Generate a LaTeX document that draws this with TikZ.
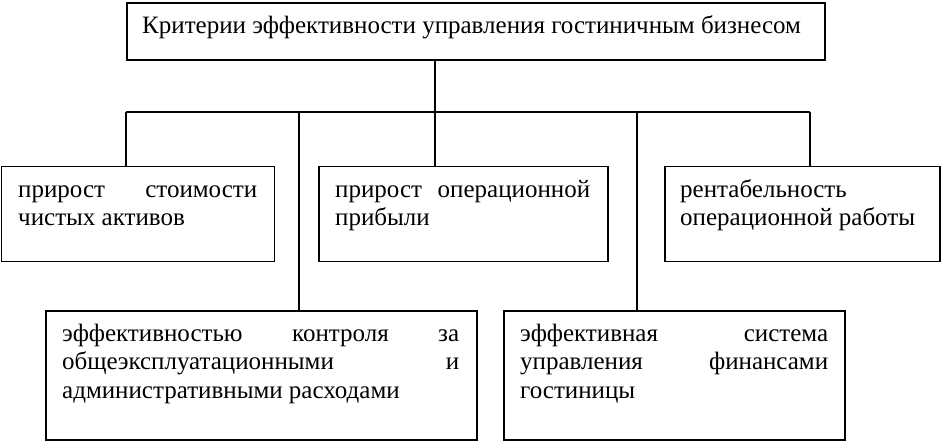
\documentclass[tikz,border=0pt]{standalone}
\usepackage{fontspec}
\setmainfont{Liberation Serif}
\newcommand{\bodyfont}{\fontsize{25}{28.5}\selectfont}
\begin{document}
\begin{tikzpicture}[x=1pt,y=-1pt,
  box/.style={draw, line width=1.6pt, anchor=north west, inner sep=0pt},
  txt/.style={anchor=base west, inner sep=0pt, font=\bodyfont},
  conn/.style={line width=1.6pt}]
\useasboundingbox (0,0) rectangle (942,440);
% boxes
\node[box, minimum width=698pt, minimum height=57pt] (top) at (126,2) {};
\node[box, minimum width=273pt, minimum height=95pt] (b1) at (0.8,165.5) {};
\node[box, minimum width=289pt, minimum height=95pt] (b2) at (318,165.5) {};
\node[box, minimum width=275pt, minimum height=95pt] (b3) at (664,165.5) {};
\node[box, minimum width=431pt, minimum height=129pt] (b4) at (45,310) {};
\node[box, minimum width=341pt, minimum height=129pt] (b5) at (503,310) {};
% texts
\node[txt] (t0) at (142,33) {Критерии эффективности управления гостиничным бизнесом};
\node[txt] (t1) at (18,197) {\parbox[t]{239pt}{\bodyfont прирост\hfill стоимости\\чистых активов}};
\node[txt] (t2) at (335,197) {\parbox[t]{255pt}{\bodyfont прирост\hfill операционной\\прибыли}};
\node[txt] (t3) at (680,197) {\parbox[t]{250pt}{\bodyfont рентабельность\\операционной работы}};
\node[txt] (t4) at (62,341) {\parbox[t]{397pt}{\bodyfont эффективностью\hfill контроля\hfill за\\общеэксплуатационными\hfill и\\административными расходами}};
\node[txt] (t5) at (520,341) {\parbox[t]{308pt}{\bodyfont эффективная\hfill система\\управления\hfill финансами\\гостиницы}};
% connectors
\coordinate (hL) at (126,112);
\coordinate (hR) at (810,112);
\coordinate (c4) at (299,112);
\coordinate (c5) at (637,112);
\coordinate (hM) at (435,112);
\draw[conn] (top.south -| hM) -- (hM |- b2.north);
\draw[conn] (hL) -- (hR);
\draw[conn] (hL) -- (hL |- b1.north);
\draw[conn] (hR) -- (hR |- b3.north);
\draw[conn] (c4) -- (c4 |- b4.north);
\draw[conn] (c5) -- (c5 |- b5.north);
\end{tikzpicture}
\end{document}
